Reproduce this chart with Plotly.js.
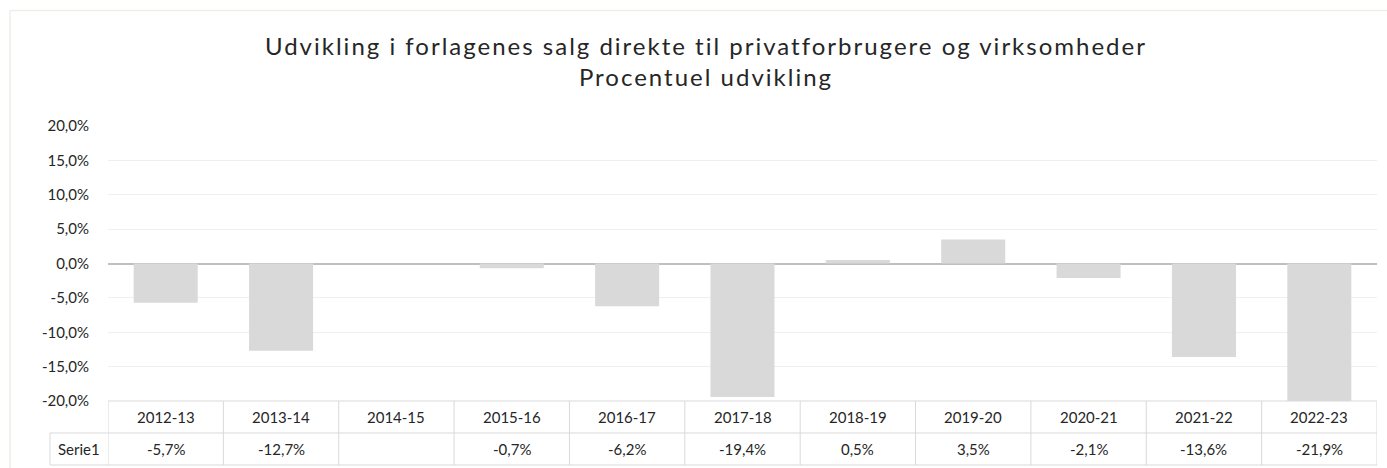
<!DOCTYPE html>
<html>
<head>
<meta charset="utf-8">
<script src="https://cdn.plot.ly/plotly-3.0.1.min.js"></script>
<style>html,body{margin:0;padding:0;background:#fff;}#chart{width:1387px;height:468px;}
#chart .gtitle{letter-spacing:2px;}</style>
</head>
<body>
<div id="chart"></div>
<script>
const categories = ["2012-13","2013-14","2014-15","2015-16","2016-17","2017-18","2018-19","2019-20","2020-21","2021-22","2022-23"];
const seriesName = "Serie1";
const values = [-5.7, -12.7, null, -0.7, -6.2, -19.4, 0.5, 3.5, -2.1, -13.6, -21.9];
const yTicks = [-20, -15, -10, -5, 0, 5, 10, 15, 20];

const W = 1387, H = 468;
const L = 108, R = 10, T = 126, B = 67;
const plotW = W - L - R, plotH = H - T - B;
const px2x = p => (p - L) / plotW;
const py2y = p => (H - B - p) / plotH;

const fmt = v => v === null ? "" : v.toFixed(1).replace(".", ",") + "%";
const txtColor = "#262626";
const lineColor = "#d9d9d9";
const fontFam = "Lato, 'Open Sans', sans-serif";
const fs = 15;

const annotations = [];
const shapes = [];
categories.forEach((c, i) => {
  annotations.push({x: i, xref: "x", y: py2y(417), yref: "paper", text: c, showarrow: false,
    font: {size: fs, color: txtColor, family: fontFam}, xanchor: "center", yanchor: "middle"});
  annotations.push({x: i, xref: "x", y: py2y(449), yref: "paper", text: fmt(values[i]), showarrow: false,
    font: {size: fs, color: txtColor, family: fontFam}, xanchor: "center", yanchor: "middle"});
});
annotations.push({x: px2x(79), xref: "paper", y: py2y(449), yref: "paper", text: seriesName, showarrow: false,
  font: {size: fs, color: txtColor, family: fontFam}, xanchor: "center", yanchor: "middle"});

for (let i = 0; i <= categories.length; i++) {
  shapes.push({type: "line", xref: "x", yref: "paper", x0: i - 0.5, x1: i - 0.5, y0: py2y(401), y1: py2y(465),
    line: {color: lineColor, width: 1}});
}
shapes.push({type: "line", xref: "x", yref: "paper", x0: -0.5, x1: categories.length - 0.5, y0: py2y(401), y1: py2y(401), line: {color: lineColor, width: 1}});
shapes.push({type: "line", xref: "paper", yref: "paper", x0: px2x(50), x1: 1, y0: py2y(433), y1: py2y(433), line: {color: lineColor, width: 1}});
shapes.push({type: "line", xref: "paper", yref: "paper", x0: px2x(50), x1: 1, y0: py2y(465), y1: py2y(465), line: {color: lineColor, width: 1}});
shapes.push({type: "line", xref: "paper", yref: "paper", x0: px2x(50), x1: px2x(50), y0: py2y(433), y1: py2y(465), line: {color: lineColor, width: 1}});
// outer chart border
shapes.push({type: "line", xref: "paper", yref: "paper", x0: px2x(10), x1: px2x(10), y0: py2y(10.5), y1: py2y(470), line: {color: "#eeede6", width: 1.5}});
shapes.push({type: "line", xref: "paper", yref: "paper", x0: px2x(10), x1: px2x(1390), y0: py2y(10.5), y1: py2y(10.5), line: {color: "#eeede6", width: 1.5}});

const trace = {
  type: "bar", x: categories, y: values, name: seriesName,
  marker: {color: "#d9d9d9"}, hoverinfo: "skip"
};

const layout = {
  width: W, height: H,
  margin: {l: L, r: R, t: T, b: B, pad: 0},
  paper_bgcolor: "#ffffff", plot_bgcolor: "#ffffff",
  bargap: 0.445,
  showlegend: false,
  font: {family: fontFam, color: txtColor},
  title: {
    text: "Udvikling i forlagenes salg direkte til privatforbrugere og virksomheder<br>Procentuel udvikling",
    font: {size: 24, color: "#262626", family: fontFam},
    x: 0.509, xref: "container", xanchor: "center",
    y: 0.882, yref: "container", yanchor: "top"
  },
  xaxis: {
    type: "category", range: [-0.5, categories.length - 0.5],
    showticklabels: false, showgrid: false, zeroline: false, showline: false, ticks: "", fixedrange: true
  },
  yaxis: {
    range: [-20, 20], tickmode: "array", tickvals: yTicks, ticktext: yTicks.map(fmt),
    showgrid: true, gridcolor: "#efefef", gridwidth: 1,
    zeroline: true, zerolinecolor: "#bfbfbf", zerolinewidth: 2,
    showline: false, ticks: "", ticklabelstandoff: 18,
    tickfont: {size: fs, color: txtColor, family: fontFam}, fixedrange: true
  },
  annotations: annotations,
  shapes: shapes
};

Plotly.newPlot("chart", [trace], layout, {displayModeBar: false, staticPlot: true});
</script>
</body>
</html>
